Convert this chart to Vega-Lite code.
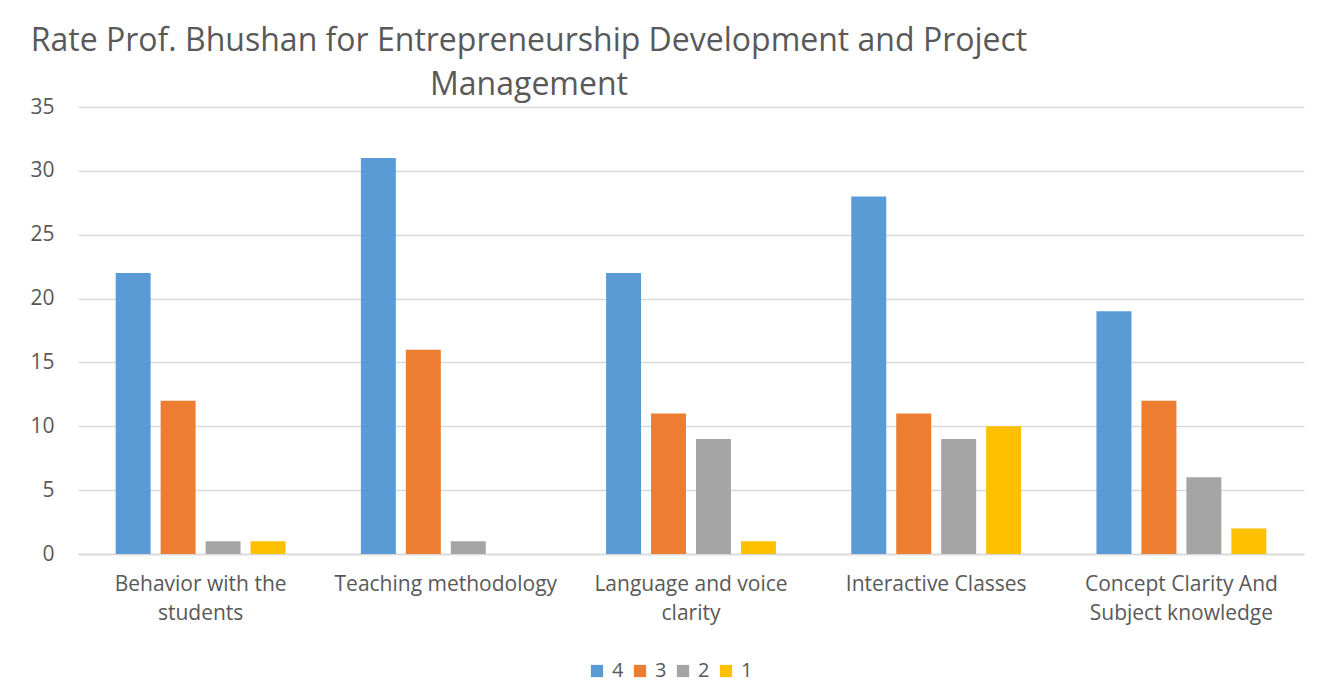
{
  "$schema": "https://vega.github.io/schema/vega-lite/v6.json",
  "width": 1226,
  "height": 447,
  "autosize": "none",
  "padding": {"left": 78, "top": 107, "right": 29, "bottom": 146},
  "background": "white",
  "title": {
    "text": ["Rate Prof. Bhushan for Entrepreneurship Development and Project", "Management"],
    "anchor": "start",
    "align": "center",
    "frame": "group",
    "dx": 451,
    "dy": 16,
    "offset": 10,
    "font": "Open Sans",
    "fontSize": 32,
    "fontWeight": "normal",
    "color": "#595959",
    "lineHeight": 44
  },
  "data": {
    "values": [
      {"aspect": "Behavior with the students", "rating": "4", "count": 22},
      {"aspect": "Behavior with the students", "rating": "3", "count": 12},
      {"aspect": "Behavior with the students", "rating": "2", "count": 1},
      {"aspect": "Behavior with the students", "rating": "1", "count": 1},
      {"aspect": "Teaching methodology", "rating": "4", "count": 31},
      {"aspect": "Teaching methodology", "rating": "3", "count": 16},
      {"aspect": "Teaching methodology", "rating": "2", "count": 1},
      {"aspect": "Teaching methodology", "rating": "1", "count": 0},
      {"aspect": "Language and voice clarity", "rating": "4", "count": 22},
      {"aspect": "Language and voice clarity", "rating": "3", "count": 11},
      {"aspect": "Language and voice clarity", "rating": "2", "count": 9},
      {"aspect": "Language and voice clarity", "rating": "1", "count": 1},
      {"aspect": "Interactive Classes", "rating": "4", "count": 28},
      {"aspect": "Interactive Classes", "rating": "3", "count": 11},
      {"aspect": "Interactive Classes", "rating": "2", "count": 9},
      {"aspect": "Interactive Classes", "rating": "1", "count": 10},
      {"aspect": "Concept Clarity And Subject knowledge", "rating": "4", "count": 19},
      {"aspect": "Concept Clarity And Subject knowledge", "rating": "3", "count": 12},
      {"aspect": "Concept Clarity And Subject knowledge", "rating": "2", "count": 6},
      {"aspect": "Concept Clarity And Subject knowledge", "rating": "1", "count": 2}
    ]
  },
  "mark": {"type": "bar"},
  "encoding": {
    "x": {
      "field": "aspect",
      "type": "nominal",
      "sort": null,
      "scale": {"paddingInner": 0, "paddingOuter": 0},
      "axis": {
        "title": null,
        "labelAngle": 0,
        "labelFont": "Open Sans",
        "labelFontSize": 21,
        "labelColor": "#595959",
        "labelLineHeight": 29,
        "labelPadding": 19,
        "labelLimit": 300,
        "ticks": false,
        "domainColor": "#d9d9d9",
        "domainWidth": 1.5,
        "labelExpr": "datum.value == 'Behavior with the students' ? ['Behavior with the', 'students'] : datum.value == 'Language and voice clarity' ? ['Language and voice', 'clarity'] : datum.value == 'Concept Clarity And Subject knowledge' ? ['Concept Clarity And', 'Subject knowledge'] : datum.value"
      }
    },
    "xOffset": {
      "field": "rating",
      "type": "nominal",
      "sort": ["4", "3", "2", "1"],
      "scale": {"paddingInner": 0.222, "paddingOuter": 0.838}
    },
    "y": {
      "field": "count",
      "type": "quantitative",
      "scale": {"domain": [0, 35]},
      "axis": {
        "title": null,
        "values": [0, 5, 10, 15, 20, 25, 30, 35],
        "domain": false,
        "ticks": false,
        "labelFont": "Open Sans",
        "labelFontSize": 21,
        "labelColor": "#595959",
        "labelPadding": 24,
        "gridColor": "#d9d9d9",
        "gridWidth": 1.5
      }
    },
    "color": {
      "field": "rating",
      "type": "nominal",
      "scale": {"domain": ["4", "3", "2", "1"], "range": ["#5B9BD5", "#ED7D31", "#A5A5A5", "#FFC000"]},
      "legend": {
        "title": null,
        "orient": "none",
        "direction": "horizontal",
        "legendX": 509,
        "legendY": 554,
        "symbolType": "square",
        "symbolSize": 150,
        "symbolStrokeWidth": 0,
        "labelFont": "Open Sans",
        "labelFontSize": 20,
        "labelColor": "#595959",
        "labelOffset": 5,
        "columnPadding": 6
      }
    }
  },
  "config": {
    "view": {"stroke": null}
  }
}
